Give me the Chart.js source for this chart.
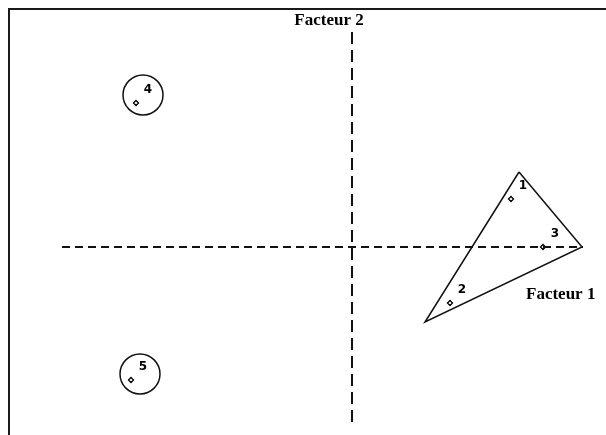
<!DOCTYPE html>
<html>
<head>
<meta charset="utf-8">
<script src="https://cdn.jsdelivr.net/npm/chart.js@4/dist/chart.umd.min.js"></script>
<style>
    html, body { margin: 0; padding: 0; background: #fff; }
    #wrap { position: relative; width: 606px; height: 435px; }
    #frame {
        position: absolute; left: 8px; top: 8px; right: -4px; bottom: -4px;
        border-left: 2px solid #1a1a1a; border-top: 2px solid #1a1a1a;
        pointer-events: none;
    }
</style>
</head>
<body>
<div id="wrap">
    <canvas id="factorChart" width="606" height="435"></canvas>
    <div id="frame"></div>
</div>
<script>
(function () {
    // Individual coordinates on the two factors
    const pointLabels = ['1', '2', '3', '4', '5'];
    const factor1 = [1.59, 0.98, 1.91, -2.16, -2.21];
    const factor2 = [0.48, -0.56, 0.00, 1.44, -1.33];

    // Triangle enclosing group {1, 2, 3}
    const triangleX = [1.67, 2.30, 0.73, 1.67];
    const triangleY = [0.75, 0.00, -0.75, 0.75];

    // Circles around the isolated individuals 4 and 5
    const circleX = [-2.09, -2.12];
    const circleY = [1.52, -1.27];

    // Extent of the dashed factor axes
    const axisXRange = [-2.90, 2.31];
    const axisYRange = [-1.75, 2.20];

    const axisTitles = ['Facteur 1', 'Facteur 2'];

    function toPoints(xs, ys) {
        return xs.map((x, i) => ({ x, y: ys[i] }));
    }

    const labelPlugin = {
        id: 'pointLabels',
        afterDatasetsDraw(chart) {
            const ctx = chart.ctx;
            const xs = chart.scales.x;
            const ys = chart.scales.y;
            ctx.save();
            ctx.fillStyle = '#000';
            ctx.font = 'bold 12px "DejaVu Sans"';
            ctx.textAlign = 'center';
            ctx.textBaseline = 'middle';
            pointLabels.forEach((lab, i) => {
                ctx.fillText(lab, xs.getPixelForValue(factor1[i]) + 12, ys.getPixelForValue(factor2[i]) - 13);
            });

            ctx.font = 'bold 17px "Liberation Serif"';
            ctx.textAlign = 'left';
            ctx.fillText(axisTitles[0], xs.getPixelForValue(axisXRange[1]) - 57, ys.getPixelForValue(0) + 48);
            ctx.textAlign = 'center';
            ctx.fillText(axisTitles[1], xs.getPixelForValue(0) - 23, ys.getPixelForValue(axisYRange[1]) - 6);
            ctx.restore();
        },
    };

    const ctx = document.getElementById('factorChart').getContext('2d');
    new Chart(ctx, {
        type: 'scatter',
        data: {
            datasets: [
                {
                    label: 'axe 1',
                    data: toPoints(axisXRange, [0, 0]),
                    showLine: true,
                    borderColor: '#111',
                    borderWidth: 2,
                    borderDash: [8, 5],
                    pointRadius: 0,
                },
                {
                    label: 'axe 2',
                    data: toPoints([0, 0], axisYRange),
                    showLine: true,
                    borderColor: '#111',
                    borderWidth: 2,
                    borderDash: [12, 6],
                    pointRadius: 0,
                },
                {
                    label: 'groupe',
                    data: toPoints(triangleX, triangleY),
                    showLine: true,
                    borderColor: '#111',
                    borderWidth: 1.5,
                    pointRadius: 0,
                    tension: 0,
                },
                {
                    label: 'isolés',
                    data: toPoints(circleX, circleY),
                    pointStyle: 'circle',
                    pointRadius: 20,
                    borderColor: '#111',
                    borderWidth: 1.5,
                    backgroundColor: 'rgba(0,0,0,0)',
                },
                {
                    label: 'individus',
                    data: toPoints(factor1, factor2),
                    pointStyle: 'rectRot',
                    pointRadius: 2.5,
                    borderColor: '#000',
                    borderWidth: 1.3,
                    backgroundColor: '#fff',
                },
            ],
        },
        options: {
            responsive: false,
            animation: false,
            layout: { padding: 0, autoPadding: false },
            plugins: {
                legend: { display: false },
                tooltip: { enabled: false },
            },
            scales: {
                x: { type: 'linear', min: -3.52, max: 2.54, display: false },
                y: { type: 'linear', min: -1.88, max: 2.47, display: false },
            },
        },
        plugins: [labelPlugin],
    });
})();
</script>
</body>
</html>
